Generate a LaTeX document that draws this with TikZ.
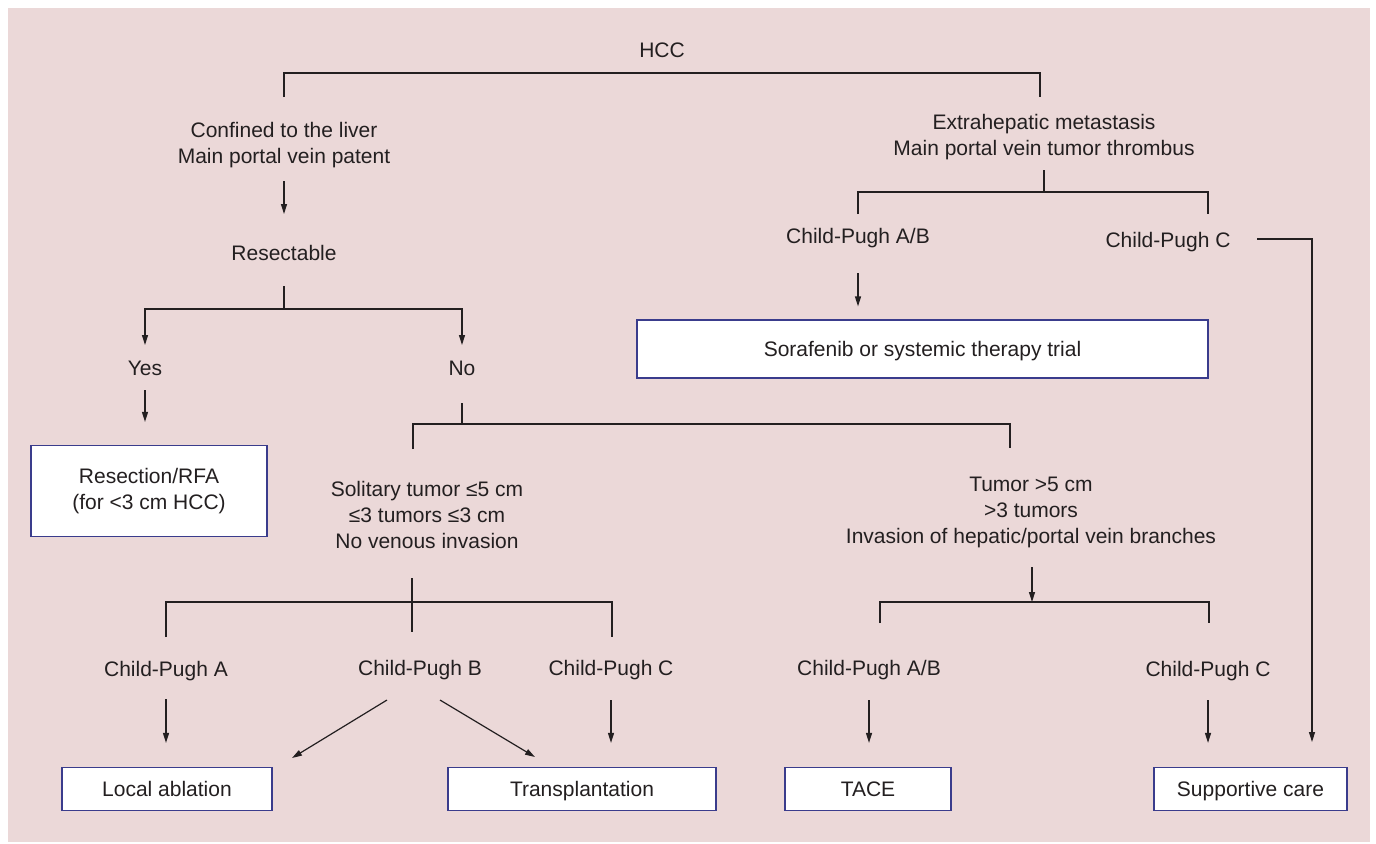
\documentclass[tikz,border=0pt]{standalone}
\usepackage{fontspec}
\setmainfont{Liberation Sans}
\usetikzlibrary{arrows.meta}
\definecolor{bgpink}{RGB}{235,216,216}
\definecolor{inkgray}{RGB}{35,31,32}
\definecolor{boxblue}{RGB}{58,60,140}

\begin{document}
\begin{tikzpicture}[
  x=0.5pt, y=-0.5pt,
  txt/.style={inner sep=0pt, align=center, text=inkgray, font=\fontsize{10.5}{13}\selectfont},
  box/.style={draw=boxblue, line width=0.6pt, fill=white, inner sep=0pt, align=center, text=inkgray, font=\fontsize{10.5}{13}\selectfont, minimum height=21.5pt},
  onebox/.style={box, text height=0.716em, text depth=0pt},
  ln/.style={draw=inkgray, line width=0.6pt},
  arr/.style={ln, -{Triangle[length=5pt,width=3pt]}}
]
\useasboundingbox (0,0) rectangle (1376,843);
\fill[bgpink] (8,8) rectangle (1370,842);

% text nodes
\node[txt] (hcc) at (662,50) {HCC};
\node[txt] (conf) at (284,145) {Confined to the liver\\Main portal vein patent};
\node[txt] (extra) at (1044,137) {Extrahepatic metastasis\\Main portal vein tumor thrombus};
\node[txt] (resect) at (284,253) {Resectable};
\node[txt] (yes) at (145,368) {Yes};
\node[txt] (no) at (462,368) {No};
\node[txt] (sol) at (427,515) {Solitary tumor ≤5 cm\\≤3 tumors ≤3 cm\\No venous invasion};
\node[txt] (tum) at (1031,512) {Tumor >5 cm\\>3 tumors\\Invasion of hepatic/portal vein branches};
\node[txt] (cpab1) at (858,238) {Child-Pugh A/B};
\node[txt] (cpc1) at (1168,242) {Child-Pugh C};
\node[txt] (cpa) at (166,671) {Child-Pugh A};
\node[txt] (cpb) at (420,670) {Child-Pugh B};
\node[txt] (cpc) at (611,670) {Child-Pugh C};
\node[txt] (cpab2) at (869,670) {Child-Pugh A/B};
\node[txt] (cpc2) at (1208,671) {Child-Pugh C};

% boxes
\node[box, minimum width=118pt, minimum height=45.5pt] (resbox) at (149,491) {Resection/RFA\\(for <3 cm HCC)};
\node[onebox, minimum width=285.5pt, minimum height=29pt] (sora) at (922.5,349) {Sorafenib or systemic therapy trial};
\node[onebox, minimum width=105pt] (local) at (167,789) {Local ablation};
\node[onebox, minimum width=134pt] (trans) at (582,789) {Transplantation};
\node[onebox, minimum width=83pt] (tace) at (868,789) {TACE};
\node[onebox, minimum width=96.5pt] (supp) at (1250.5,789) {Supportive care};

% split under HCC
\coordinate (hccJ) at (662,73);
\coordinate (confT) at (284,97);
\coordinate (extraT) at (1040,97);
\draw[ln] (confT) |- (hccJ) -| (extraT);

% confined to the liver
\coordinate (confB) at (284,181);
\coordinate (resectT) at (284,214);
\draw[arr] (confB) -- (resectT);
\coordinate (resectB) at (284,286);
\coordinate (resectJ) at (284,309);
\coordinate (yesT) at (145,345);
\coordinate (noT) at (462,345);
\draw[ln] (resectB) -- (resectJ);
\draw[arr] (resectJ) -| (yesT);
\draw[arr] (resectJ) -| (noT);
\coordinate (yesB) at (145,390);
\draw[arr, shorten >=11.5pt] (yesB) -- (yesB |- resbox.north);
\coordinate (noB) at (462,403);
\coordinate (noJ) at (462,424);
\coordinate (solT) at (413,449);
\coordinate (tumT) at (1010,448);
\draw[ln] (noB) -- (noJ);
\draw[ln] (solT) |- (noJ) -| (tumT);

% solitary tumor
\coordinate (solB) at (412,578);
\coordinate (solX) at (412,632);
\coordinate (solJ) at (412,602);
\coordinate (cpaT) at (166,637);
\coordinate (cpcT) at (612,637);
\draw[ln] (solB) -- (solX);
\draw[ln] (cpaT) |- (solJ) -| (cpcT);
\coordinate (cpaB) at (166,699);
\coordinate (cpcB) at (611,700);
\draw[arr, shorten >=12pt] (cpaB) -- (cpaB |- local.north);
\draw[arr, shorten >=12pt] (cpcB) -- (cpcB |- trans.north);
\coordinate (cpbL) at (387,700);
\coordinate (localE) at (292,758);
\coordinate (cpbR) at (440,700);
\coordinate (transE) at (535,757);
\draw[arr] (cpbL) -- (localE);
\draw[arr] (cpbR) -- (transE);

% tumor >5 cm
\coordinate (tumB) at (1032,567);
\coordinate (tumJ) at (1032,602);
\coordinate (cpab2T) at (880,623);
\coordinate (cpc2T) at (1209,623);
\draw[arr] (tumB) -- (tumJ);
\draw[ln] (cpab2T) |- (tumJ) -| (cpc2T);
\coordinate (cpab2B) at (869,700);
\coordinate (cpc2B) at (1208,700);
\draw[arr, shorten >=12pt] (cpab2B) -- (cpab2B |- tace.north);
\draw[arr, shorten >=12pt] (cpc2B) -- (cpc2B |- supp.north);

% extrahepatic
\coordinate (extraB) at (1044,170);
\coordinate (extraJ) at (1044,192);
\coordinate (cpab1T) at (858,214);
\coordinate (cpc1T) at (1208,214);
\draw[ln] (extraB) -- (extraJ);
\draw[ln] (cpab1T) |- (extraJ) -| (cpc1T);
\coordinate (cpab1B) at (858,273);
\draw[arr, shorten >=6.5pt] (cpab1B) -- (cpab1B |- sora.north);
\coordinate (cpc1E) at (1257,239);
\coordinate (suppC) at (1312,742);
\draw[arr] (cpc1E) -| (suppC);
\end{tikzpicture}
\end{document}
